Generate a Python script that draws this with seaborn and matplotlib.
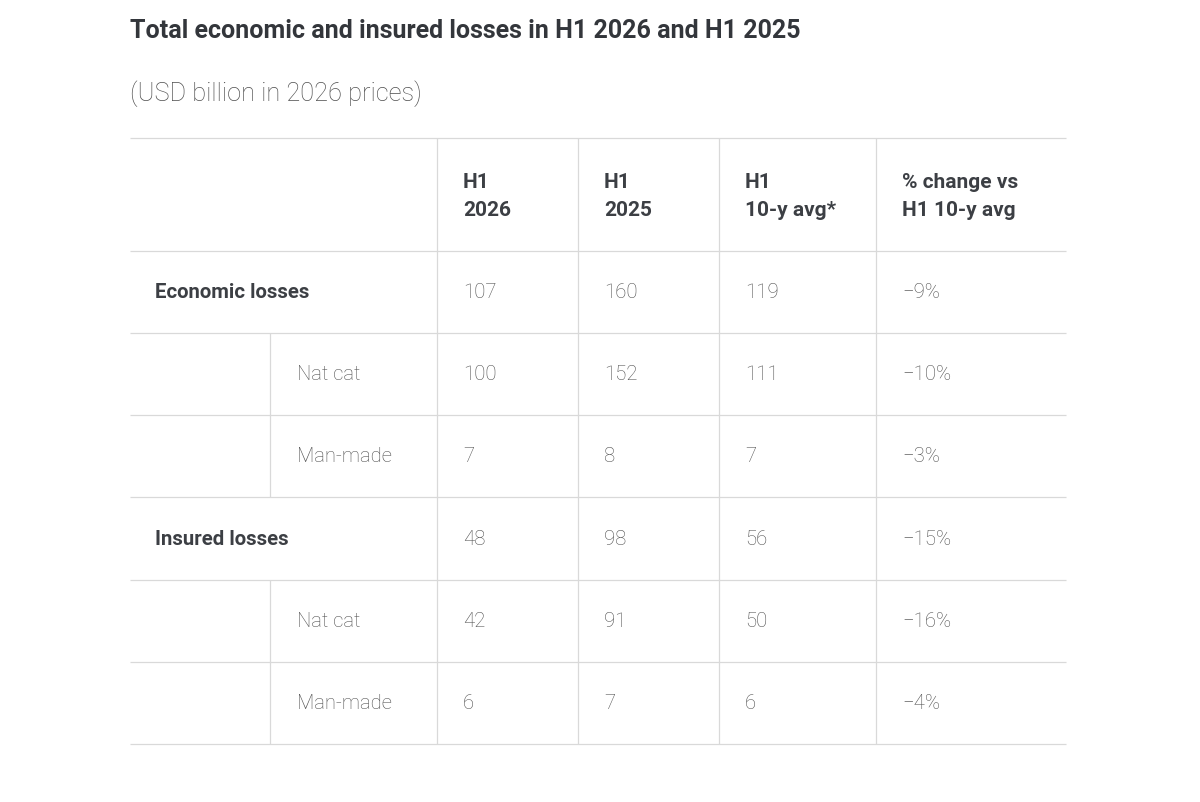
import seaborn as sns
import pandas as pd
from matplotlib import pyplot as plt

#--------------------------Data------------------------------------------------
title = 'Total economic and insured losses in H1 2026 and H1 2025'
subtitle = '(USD billion in 2026 prices)'

col_headers = ['H1\n2026', 'H1\n2025', 'H1\n10-y avg*', '% change vs\nH1 10-y avg']
row_groups = ['Economic losses', '', '', 'Insured losses', '', '']
row_subs = ['', 'Nat cat', 'Man-made', '', 'Nat cat', 'Man-made']
h1_2026 = [107, 100, 7, 48, 42, 6]
h1_2025 = [160, 152, 8, 98, 91, 7]
avg_10y = [119, 111, 7, 56, 50, 6]
pct_change = ['\u22129%', '\u221210%', '\u22123%', '\u221215%', '\u221216%', '\u22124%']

df = pd.DataFrame({'group': row_groups, 'sub': row_subs,
                   'h1_2026': h1_2026, 'h1_2025': h1_2025,
                   'avg': avg_10y, 'pct': pct_change})

#--------------------------Layout (pixels)-------------------------------------
W, H = 1200, 803
col_edges = [130, 270, 437, 578, 719, 876, 1066]
row_edges = [139, 252, 334, 416, 498, 581, 663, 745]
pad = 26

line_col = '#d9d9d9'
head_col = '#3c3f44'
text_col = '#4f4f4f'
font = ['Roboto', 'DejaVu Sans']

sns.set_theme(style='white')
plt.rcParams['font.family'] = font

fig = plt.figure(figsize=(W / 100, H / 100), dpi=100)
ax = fig.add_axes([0, 0, 1, 1])
ax.set_xlim(0, W)
ax.set_ylim(H, 0)
ax.axis('off')

#--------------------------Titles----------------------------------------------
ax.text(130, 31, title, fontsize=18, fontweight='bold', color='#33363b',
        va='center', ha='left')
ax.text(130, 94, subtitle, fontsize=18.3, fontweight='light', color='#4f4f4f',
        va='center', ha='left')

#--------------------------Grid lines------------------------------------------
ax.hlines(row_edges, col_edges[0], col_edges[-1], color=line_col, lw=0.9)
ax.vlines(col_edges[2:6], row_edges[0], row_edges[-1], color=line_col, lw=0.9)
# inner column only for sub rows
for i, s in enumerate(df['sub']):
    if s:
        ax.vlines(col_edges[1], row_edges[i + 1], row_edges[i + 2],
                  color=line_col, lw=0.9)

#--------------------------Header----------------------------------------------
hy = (row_edges[0] + row_edges[1]) / 2
for j, h in enumerate(col_headers):
    ax.text(col_edges[j + 2] + pad, hy + 1, h, fontsize=15, fontweight='bold',
            color=head_col, va='center', ha='left', linespacing=1.62)

#--------------------------Body------------------------------------------------
for i, row in df.iterrows():
    y = (row_edges[i + 1] + row_edges[i + 2]) / 2
    if row['group']:
        ax.text(col_edges[0] + 25, y, row['group'], fontsize=14.7,
                fontweight='bold', color=head_col, va='center', ha='left')
    if row['sub']:
        ax.text(col_edges[1] + 27, y, row['sub'], fontsize=14.5,
                fontweight='light', color=text_col, va='center', ha='left')
    vals = [row['h1_2026'], row['h1_2025'], row['avg'], row['pct']]
    for j, v in enumerate(vals):
        ax.text(col_edges[j + 2] + pad, y, str(v), fontsize=14.7,
                fontweight='light', color=text_col, va='center', ha='left')

fig.savefig('out.png', dpi=100, facecolor='white')
